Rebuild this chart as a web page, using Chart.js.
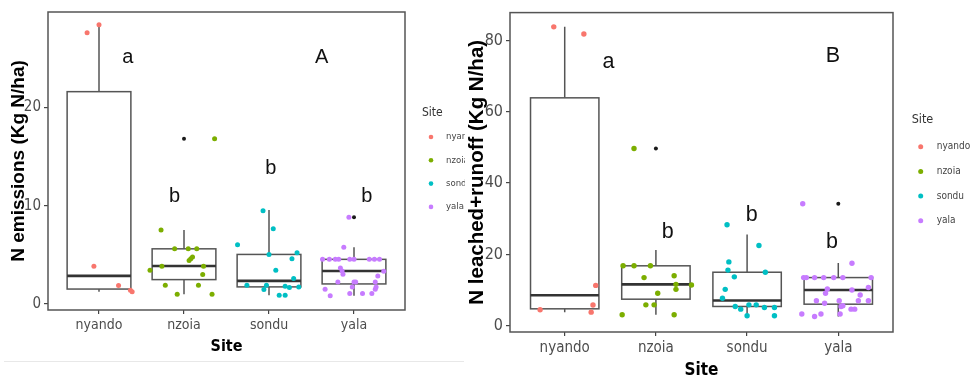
<!DOCTYPE html>
<html>
<head>
<meta charset="utf-8">
<script src="https://cdn.jsdelivr.net/npm/chart.js@4.4.1/dist/chart.umd.min.js"></script>
<style>
  html, body { margin: 0; padding: 0; background: #fff; }
  #wrap { position: relative; width: 973px; height: 379px; overflow: hidden; }
  #left { position: absolute; left: 0; top: 0; }
  #right { position: absolute; left: 464px; top: 0; }
  #edge { position: absolute; left: 4px; top: 361px; width: 460px; border-top: 1px solid #e8e8e8; }
</style>
</head>
<body>
<div id="wrap">
  <canvas id="left" width="465" height="379"></canvas>
  <div id="edge"></div>
  <canvas id="right" width="509" height="379"></canvas>
</div>
<script>
const sites = ['nyando', 'nzoia', 'sondu', 'yala'];
const siteColors = ['#F8766D', '#7CAE00', '#00BFC4', '#C77CFF'];

// A: N emissions (Kg N/ha)
const emTicks = [0, 10, 20];
const emQ1 = [1.53, 2.49, 1.75, 2.05];
const emMedian = [2.87, 3.87, 2.36, 3.36];
const emQ3 = [21.6, 5.62, 5.05, 4.55];
const emLow = [1.25, 1.01, 0.91, 0.84];
const emHigh = [28.4, 7.54, 9.56, 5.79];
const emOutliers = [[], [16.8], [], [8.82]];
const emPoints = [
  [27.6, 28.4, 3.84, 1.9, 1.4, 1.25],
  [7.54, 5.62, 5.62, 5.62, 4.44, 4.62, 4.78, 3.43, 3.84, 3.84, 3.0, 1.92, 1.92, 1.01, 1.01, 16.8],
  [6.03, 9.5, 7.65, 5.05, 3.43, 5.22, 4.62, 2.6, 1.92, 1.92, 1.48, 1.82, 1.69, 1.75, 0.91, 0.91],
  [4.55, 4.55, 4.55, 4.55, 4.55, 4.55, 4.55, 4.55, 4.55, 5.79, 3.67, 3.37, 3.03, 3.33, 2.86,
   2.25, 2.25, 2.25, 2.25, 1.75, 1.75, 1.52, 1.52, 1.08, 1.08, 1.08, 0.84, 8.82]
];
const emJitter = [
  [-0.14, 0.0, -0.06, 0.23, 0.37, 0.39],
  [-0.27, -0.11, 0.05, 0.15, 0.06, 0.08, 0.10, -0.40, -0.26, 0.23, 0.22, -0.22, 0.17, -0.08, 0.33, 0.36],
  [-0.37, -0.07, 0.05, 0.0, 0.08, 0.33, 0.27, 0.29, -0.26, -0.03, -0.06, 0.19, 0.24, 0.35, 0.12, 0.19],
  [-0.37, -0.29, -0.22, -0.18, -0.05, 0.0, 0.18, 0.24, 0.30, -0.12, -0.16, -0.14, -0.13, 0.35, 0.28,
   -0.19, 0.0, 0.02, 0.25, 0.26, -0.02, -0.34, 0.25, -0.05, 0.10, 0.21, -0.28, -0.06]
];
const emLetters = ['a', 'b', 'b', 'b', 'A'];
const emLetterX = [1.34, 1.89, 3.02, 4.15, 3.62];
const emLetterY = [24.5, 10.4, 13.2, 10.37, 24.5];

// B: N leached+runoff (Kg N/ha)
const leTicks = [0, 20, 40, 60, 80];
const leQ1 = [4.74, 7.44, 5.4, 6.04];
const leMedian = [8.55, 11.6, 7.06, 10.0];
const leQ3 = [63.9, 16.8, 15.0, 13.5];
const leLow = [3.8, 3.07, 2.8, 2.6];
const leHigh = [83.8, 21.2, 25.6, 17.6];
const leOutliers = [[], [49.7], [], [34.2]];
const lePoints = [
  [83.8, 81.8, 11.3, 5.8, 3.8, 4.46],
  [16.8, 16.8, 16.8, 13.5, 14.0, 11.6, 10.2, 11.4, 9.1, 5.85, 5.85, 3.07, 3.07, 49.7],
  [28.3, 22.5, 17.9, 15.6, 13.7, 15.0, 10.2, 7.7, 5.4, 4.65, 2.8, 5.85, 5.85, 5.1, 5.1, 2.8],
  [34.2, 17.5, 13.5, 13.5, 13.5, 13.5, 13.5, 13.5, 13.5, 10.3, 9.1, 10.0, 10.7, 8.6,
   7.0, 7.0, 7.0, 7.0, 6.3, 5.4, 5.6, 3.3, 4.65, 4.65, 3.3, 2.6, 3.3]
];
const leJitter = [
  [-0.12, 0.21, 0.34, 0.31, 0.29, -0.27],
  [-0.36, -0.24, -0.06, -0.13, 0.20, 0.22, 0.22, 0.39, 0.02, -0.11, -0.02, -0.37, 0.20, -0.24],
  [-0.22, 0.13, -0.20, -0.21, -0.14, 0.20, -0.24, -0.27, -0.13, -0.07, 0.0, 0.02, 0.10, 0.19, 0.30, 0.30],
  [-0.39, 0.15, -0.38, -0.35, -0.26, -0.16, -0.05, 0.05, 0.36, -0.12, -0.14, 0.15, 0.33, 0.24,
   -0.24, 0.01, 0.22, 0.33, -0.15, 0.03, 0.05, 0.02, 0.14, 0.18, -0.40, -0.26, -0.19]
];
const leLetters = ['a', 'b', 'b', 'b', 'B'];
const leLetterX = [1.48, 2.13, 3.05, 3.93, 3.94];
const leLetterY = [72.3, 24.6, 29.3, 21.7, 73.9];

const narrow = "'DejaVu Sans Condensed', 'Liberation Sans', sans-serif";
const plain = "'Liberation Sans', Arial, sans-serif";

// draws box + whiskers under the points, border, letters and the Site legend on top
function boxPlugin(p) {
  return {
    id: 'boxes',
    beforeDatasetsDraw(chart) {
      const {ctx, scales: {x, y}} = chart;
      ctx.save();
      p.median.forEach((m, i) => {
        const cx = x.getPixelForValue(i + 1);
        const hw = x.getPixelForValue(i + 1 + 0.375) - cx;
        const top = y.getPixelForValue(p.q3[i]);
        const bot = y.getPixelForValue(p.q1[i]);
        ctx.strokeStyle = '#555';
        ctx.lineWidth = 1.5;
        ctx.beginPath();
        ctx.moveTo(cx, top); ctx.lineTo(cx, y.getPixelForValue(p.high[i]));
        ctx.moveTo(cx, bot); ctx.lineTo(cx, y.getPixelForValue(p.low[i]));
        ctx.stroke();
        ctx.fillStyle = '#fff';
        ctx.fillRect(cx - hw, top, 2 * hw, bot - top);
        ctx.strokeRect(cx - hw, top, 2 * hw, bot - top);
        const ym = y.getPixelForValue(m);
        ctx.strokeStyle = '#333';
        ctx.lineWidth = 2.6;
        ctx.beginPath();
        ctx.moveTo(cx - hw, ym); ctx.lineTo(cx + hw, ym);
        ctx.stroke();
      });
      ctx.restore();
    },
    afterDatasetsDraw(chart) {
      const {ctx, chartArea: a, scales: {x, y}} = chart;
      ctx.save();
      ctx.strokeStyle = '#555';
      ctx.lineWidth = 1.5;
      ctx.strokeRect(a.left, a.top, a.right - a.left, a.bottom - a.top);

      ctx.fillStyle = '#111';
      ctx.font = p.letterSize + 'px ' + plain;
      ctx.textAlign = 'center';
      ctx.textBaseline = 'alphabetic';
      p.letters.forEach((t, i) => {
        ctx.fillText(t, x.getPixelForValue(p.letterX[i]), y.getPixelForValue(p.letterY[i]));
      });

      const L = p.legend;
      ctx.textAlign = 'left';
      ctx.textBaseline = 'middle';
      ctx.fillStyle = '#333';
      ctx.font = L.titleSize + 'px ' + narrow;
      ctx.fillText('Site', L.x, L.titleY);
      ctx.font = L.size + 'px ' + narrow;
      sites.forEach((s, i) => {
        const yy = L.y0 + i * L.step;
        ctx.fillStyle = siteColors[i];
        ctx.beginPath();
        ctx.arc(L.dot, yy, L.r, 0, Math.PI * 2);
        ctx.fill();
        ctx.fillStyle = '#444';
        ctx.fillText(s, L.text, yy);
      });
      ctx.restore();
    }
  };
}

function makeChart(id, p) {
  const datasets = sites.map((s, i) => ({
    label: s,
    data: p.points[i].map((v, k) => ({x: i + 1 + p.jitter[i][k], y: v})),
    backgroundColor: siteColors[i],
    borderWidth: 0,
    pointRadius: p.r
  }));
  datasets.push({
    label: 'outliers',
    data: p.outliers.flatMap((o, i) => o.map(v => ({x: i + 1, y: v}))),
    backgroundColor: '#1a1a1a',
    borderWidth: 0,
    pointRadius: 2
  });
  return new Chart(document.getElementById(id), {
    type: 'scatter',
    data: {datasets},
    plugins: [boxPlugin(p)],
    options: {
      responsive: false,
      animation: false,
      devicePixelRatio: 1,
      events: [],
      layout: {padding: {top: p.top, bottom: p.padBottom, left: 0, right: p.padRight}},
      plugins: {legend: {display: false}, tooltip: {enabled: false}},
      scales: {
        x: {
          type: 'linear', min: 0.4, max: 4.6,
          afterBuildTicks: s => { s.ticks = sites.map((n, i) => ({value: i + 1})); },
          afterFit: s => { s.height = p.xHeight; },
          ticks: {
            callback: v => sites[Math.round(v) - 1],
            color: '#4d4d4d', padding: p.xTickPad, maxRotation: 0, autoSkip: false,
            font: {family: narrow, size: p.tickSize}
          },
          grid: {drawOnChartArea: false, drawTicks: true, tickLength: 4, color: '#444', lineWidth: 1.2},
          border: {display: false},
          title: {
            display: true, text: 'Site', color: '#000',
            font: {family: narrow, size: p.xTitleSize, weight: 'bold', lineHeight: 1},
            padding: {top: 0, bottom: p.xTitlePad}
          }
        },
        y: {
          min: p.yMin, max: p.yMax,
          afterBuildTicks: s => { s.ticks = p.ticks.map(v => ({value: v})); },
          afterFit: s => { s.width = p.yWidth; },
          ticks: {color: '#4d4d4d', padding: 3, font: {family: narrow, size: p.yTickSize}},
          grid: {drawOnChartArea: false, drawTicks: true, tickLength: 4, color: '#444', lineWidth: 1.2},
          border: {display: false},
          title: {
            display: true, text: p.yTitle, color: '#000',
            font: {family: plain, size: p.yTitleSize, weight: 'bold', lineHeight: 1},
            padding: {top: p.yTitlePad, bottom: 0}
          }
        }
      }
    }
  });
}

makeChart('left', {
  points: emPoints, jitter: emJitter, outliers: emOutliers,
  q1: emQ1, median: emMedian, q3: emQ3, low: emLow, high: emHigh,
  letters: emLetters, letterX: emLetterX, letterY: emLetterY, letterSize: 20,
  ticks: emTicks, yMin: -0.6, yMax: 29.7, yTitle: 'N emissions (Kg N/ha)',
  r: 2.5, top: 10, padBottom: 17, padRight: 60, xHeight: 52, yWidth: 48,
  tickSize: 14, yTickSize: 15, xTickPad: 3, xTitleSize: 16, xTitlePad: 7,
  yTitleSize: 19, yTitlePad: 9,
  legend: {x: 422, titleY: 113, titleSize: 12, size: 9.5, dot: 431, text: 446, y0: 137, step: 23.3, r: 2.3}
});

makeChart('right', {
  points: lePoints, jitter: leJitter, outliers: leOutliers,
  q1: leQ1, median: leMedian, q3: leQ3, low: leLow, high: leHigh,
  letters: leLetters, letterX: leLetterX, letterY: leLetterY, letterSize: 21.5,
  ticks: leTicks, yMin: -1.76, yMax: 87.8, yTitle: 'N leached+runoff (Kg N/ha)',
  r: 2.7, top: 11, padBottom: 0, padRight: 80, xHeight: 47, yWidth: 46,
  tickSize: 15, yTickSize: 16, xTickPad: 3, xTitleSize: 17, xTitlePad: 0,
  yTitleSize: 20.5, yTitlePad: 3,
  legend: {x: 447.7, titleY: 120, titleSize: 12.5, size: 10, dot: 456.7, text: 472.7, y0: 146.7, step: 24.7, r: 2.5}
});
</script>
</body>
</html>
